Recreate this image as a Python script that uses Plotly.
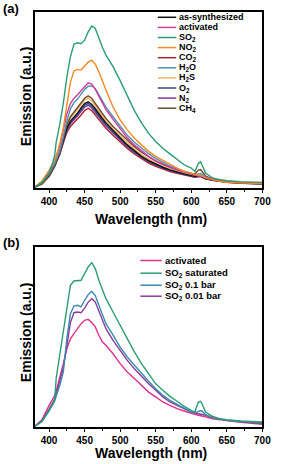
import plotly.graph_objects as go

# ---------------- data ----------------
wavelength = [380, 390, 400, 405, 408, 410, 415, 420, 425, 430,
              435, 440, 445, 450, 455, 460, 465, 470, 475, 480,
              490, 500, 510, 520, 530, 540, 550, 560, 570, 580,
              590, 600, 605, 610, 613, 615, 620, 630, 640, 650,
              670, 700]

# panel (a)
a_as_synthesized = [0.5, 2.5, 7, 10.5, 13, 15, 20, 27, 34, 38,
                    40, 42.5, 45.5, 48, 49, 47.5, 45, 42, 39.5, 37,
                    32.5, 28.5, 24.5, 21, 18, 15.5, 13.5, 11.8, 10.3, 9,
                    8, 7, 6.6, 6.8, 6.9, 6.5, 5.5, 4.6, 4, 3.5,
                    3, 2.5]
a_activated = [0.5, 3.5, 9, 13, 16, 18, 24, 33, 42, 48,
               51, 53, 55, 57.5, 59.8, 59, 56, 52, 48, 44.5,
               39, 33.5, 28.5, 24.5, 21, 18, 15.5, 13.5, 11.8, 10.3,
               9, 7.8, 7.2, 6.8, 6.7, 6.5, 5.6, 4.6, 4.0, 3.5,
               3.0, 2.5]
a_so2 = [0.5, 3, 8.5, 14, 19, 26, 36, 48, 63, 74.5,
         81.7, 82.5, 82, 84, 88.7, 92, 90.6, 85, 80, 75.5,
         69, 61, 52, 44, 37, 31, 26.4, 22.6, 19.4, 16.4,
         13.2, 11.3, 9.4, 14, 15, 13.2, 8.5, 5.7, 4.7, 4.2,
         3.6, 3.2]
a_no2 = [0.5, 4, 10, 13.5, 16, 18, 25, 34, 46, 60,
         66.5, 67.4, 67, 69, 71.5, 72.6, 70.4, 66, 61.3, 55.7,
         46, 38.7, 33, 28.3, 24.5, 20.8, 18, 15.7, 13.2, 11.3,
         9.4, 8.1, 7.6, 7.2, 7.2, 7.0, 5.7, 4.6, 3.8, 3.3,
         2.9, 2.5]
a_co2 = [0.5, 2.5, 6.5, 10, 12.5, 14.5, 19, 25.5, 31.5, 35,
         37, 39, 41.5, 44, 45.3, 44, 41.5, 39, 36.5, 34,
         30, 26, 22.5, 19.3, 16.5, 14.2, 12.3, 10.8, 9.4, 8.3,
         7.4, 6.5, 6.1, 6.4, 6.5, 6.1, 5.2, 4.3, 3.7, 3.2,
         2.7, 2.2]
a_h2o = [0.5, 3, 8, 11.5, 14, 16, 21, 29, 38, 45,
         48.5, 50.5, 53, 56, 57.8, 58, 56.5, 53, 49, 46,
         40.5, 35, 30, 26, 22.5, 19.5, 16.8, 14.5, 12.5, 10.8,
         9.5, 8.2, 7.6, 8.0, 8.2, 7.8, 6.2, 5.0, 4.3, 3.8,
         3.2, 2.7]
a_h2s = [0.5, 2.5, 7, 10.5, 13, 15, 20, 27.5, 35, 39.5,
         42, 44.5, 47.5, 50, 51, 49.5, 46.5, 43.5, 40.5, 38,
         33.5, 29.5, 25.5, 22, 19, 16.3, 14, 12.2, 10.7, 9.4,
         8.3, 7.3, 6.9, 7.2, 7.3, 6.9, 5.8, 4.8, 4.1, 3.6,
         3.0, 2.5]
a_o2 = [0.5, 2.5, 6.8, 10, 12.5, 14.5, 19.5, 26.5, 33, 37,
        39.5, 41.5, 44.5, 47, 48, 46.5, 44, 41, 38.5, 36,
        31.8, 27.8, 24, 20.6, 17.6, 15.2, 13.2, 11.5, 10, 8.8,
        7.8, 6.9, 6.5, 6.7, 6.8, 6.4, 5.4, 4.5, 3.9, 3.4,
        2.9, 2.4]
a_n2 = [0.5, 2.5, 6.8, 10, 12.5, 14.5, 19.5, 26.5, 33, 36.5,
        38.5, 41, 43.5, 46, 47, 45.5, 43, 40.3, 37.8, 35.3,
        31.2, 27.3, 23.5, 20.2, 17.3, 14.9, 13, 11.3, 9.9, 8.7,
        7.7, 6.8, 6.4, 6.6, 6.7, 6.3, 5.3, 4.4, 3.8, 3.3,
        2.8, 2.3]
a_ch4 = [0.5, 2.5, 7, 10.5, 13, 15, 20.5, 28, 36, 40.5,
         43, 45.5, 48.5, 51, 52.3, 51, 48, 45, 42, 39.5,
         35, 31, 27, 23.5, 20.3, 17.5, 15.2, 13.3, 11.8, 10.5,
         9.3, 8.3, 7.8, 10.2, 10.5, 9.5, 6.8, 5.2, 4.4, 3.8,
         3.2, 2.7]

# panel (b)
b_activated = [0.4, 4, 12, 15, 17.5, 20, 27, 35, 43.5, 49,
               51.9, 54.6, 57.4, 59.3, 59.8, 58, 55.6, 51, 47.2, 45.4,
               40.7, 35.2, 30.6, 26.9, 23.1, 19.4, 16.7, 13.9, 12, 10.2,
               8.9, 7.4, 7.0, 6.5, 6.3, 6.0, 5.6, 4.6, 4.0, 3.5,
               2.6, 1.5]
b_so2_saturated = [0.4, 3, 9.3, 12.5, 15.7, 27, 40, 52.8, 67.6, 78.7,
                   81.1, 81.1, 81.5, 85.2, 88.9, 91.3, 88, 81.5, 76, 71.3,
                   63.9, 56.5, 49, 41.7, 35.2, 29.6, 24, 20.4, 17, 14.3,
                   11.5, 9.3, 8.3, 13.9, 14.3, 13, 8.3, 5.9, 4.6, 4.1,
                   3.3, 2.8]
b_so2_01 = [0.4, 3, 9, 12, 14.5, 17, 23, 30.5, 49, 63,
            67.2, 67.6, 66.7, 70.4, 73.5, 75.4, 73, 67.6, 62, 57.4,
            51, 44.4, 38.9, 34.3, 29.6, 25.4, 21.3, 17.6, 14.8, 12.6,
            10.6, 8.3, 8.0, 8.9, 9.0, 8.9, 6.9, 5.2, 4.3, 3.7,
            3.0, 2.4]
b_so2_001 = [0.4, 3.5, 10, 13, 15.5, 18, 25, 33, 45, 58,
             63.5, 63.9, 63.5, 66, 69.4, 71.3, 69.4, 64.8, 59.3, 54.6,
             48.1, 42.6, 37, 32.4, 28.1, 24, 20.4, 16.7, 13.9, 12,
             10.2, 8.3, 7.8, 7.4, 7.3, 7.0, 6.5, 5.2, 4.3, 3.7,
             2.9, 2.0]

x_ticks = [400, 450, 500, 550, 600, 650, 700]

a_labels = ["as-synthesized", "activated", "SO<sub>2</sub>", "NO<sub>2</sub>", "CO<sub>2</sub>",
            "H<sub>2</sub>O", "H<sub>2</sub>S", "O<sub>2</sub>", "N<sub>2</sub>", "CH<sub>4</sub>"]
a_series = [a_as_synthesized, a_activated, a_so2, a_no2, a_co2, a_h2o, a_h2s, a_o2, a_n2, a_ch4]
a_colors = ["#111111", "#d63c9c", "#2a9d72", "#f5891f", "#b3202c",
            "#4a90b8", "#f2b366", "#2d4b8c", "#7b3a9c", "#6e4a2a"]

b_labels = ["activated", "SO<sub>2</sub> saturated", "SO<sub>2</sub> 0.1 bar", "SO<sub>2</sub> 0.01 bar"]
b_series = [b_activated, b_so2_saturated, b_so2_01, b_so2_001]
b_colors = ["#e0308c", "#2a9d72", "#3a8ab2", "#8a3a9c"]

# ---------------- figure ----------------
W, H = 282, 464
FONT = "Liberation Sans, Arial, sans-serif"

def px(x):
    return x / W

def py(y):
    return 1 - y / H

fig = go.Figure()

order_a = [4, 8, 7, 6, 0, 9, 5, 1, 3, 2]
for i in order_a:
    fig.add_trace(go.Scatter(x=wavelength, y=a_series[i], mode="lines",
                             line=dict(color=a_colors[i], width=1.4),
                             xaxis="x", yaxis="y", showlegend=False))
for i in [0, 3, 2, 1]:
    fig.add_trace(go.Scatter(x=wavelength, y=b_series[i], mode="lines",
                             line=dict(color=b_colors[i], width=1.4),
                             xaxis="x2", yaxis="y2", showlegend=False))

xdom = [px(36), px(271)]
axis_common = dict(showline=True, mirror=True, linecolor="black", linewidth=1.5,
                   showgrid=False, zeroline=False)
xcommon = dict(axis_common, range=[380, 700], tickvals=x_ticks, ticks="outside",
               ticklen=3, tickwidth=1.2, tickcolor="black",
               tickfont=dict(family=FONT, size=10, color="black", weight="bold"),
               minor=dict(tickvals=[425, 475, 525, 575, 625, 675], ticks="outside",
                          ticklen=2, tickwidth=1, tickcolor="black"))
ycommon = dict(axis_common, range=[0, 100], showticklabels=False, ticks="")

fig.update_layout(
    width=W, height=H, margin=dict(l=0, r=0, t=0, b=0),
    paper_bgcolor="white", plot_bgcolor="white", showlegend=False,
    xaxis=dict(xcommon, domain=xdom, anchor="y"),
    yaxis=dict(ycommon, domain=[py(188), py(12)], anchor="x"),
    xaxis2=dict(xcommon, domain=xdom, anchor="y2"),
    yaxis2=dict(ycommon, domain=[py(427), py(247)], anchor="x2"),
)

ann = []
shapes = []

def text(x, y, s, size, angle=0, xanchor="center"):
    ann.append(dict(x=px(x), y=py(y), xref="paper", yref="paper", text=s,
                    showarrow=False, textangle=angle, xanchor=xanchor, yanchor="middle",
                    font=dict(family=FONT, size=size, color="black", weight="bold")))

text(1, 8, "(a)", 13, xanchor="left")
text(1, 242, "(b)", 13, xanchor="left")
text(27, 96, "Emission (a.u.)", 14, angle=-90)
text(27, 332, "Emission (a.u.)", 14, angle=-90)
text(156, 218.5, "Wavelength (nm)", 14)
text(156, 452.5, "Wavelength (nm)", 14)

a_rows = [17.3 + 10.1 * k for k in range(len(a_labels))]
for lab, col, yy in zip(a_labels, a_colors, a_rows):
    shapes.append(dict(type="line", xref="paper", yref="paper", x0=px(163), x1=px(182),
                       y0=py(yy), y1=py(yy), line=dict(color=col, width=1.5)))
    text(183, yy, lab, 9, xanchor="left")

b_rows = [260.5, 273.2, 285.2, 296.2]
for lab, col, yy in zip(b_labels, b_colors, b_rows):
    shapes.append(dict(type="line", xref="paper", yref="paper", x0=px(145), x1=px(167),
                       y0=py(yy), y1=py(yy), line=dict(color=col, width=1.5)))
    text(168, yy, lab, 9.5, xanchor="left")

fig.update_layout(annotations=ann, shapes=shapes)

fig.write_html("out.html", config={"displayModeBar": False})

# remove default page margins so the figure fills the window exactly
with open("out.html", "r", encoding="utf-8") as f:
    html = f.read()
html = html.replace("<head>", "<head><style>html,body{margin:0;padding:0;overflow:hidden;}</style>", 1)
with open("out.html", "w", encoding="utf-8") as f:
    f.write(html)
